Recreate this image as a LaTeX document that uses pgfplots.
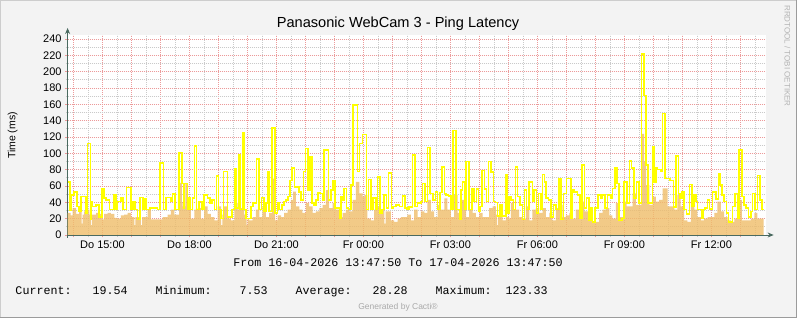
\documentclass[border=0pt]{standalone}
\usepackage{fontspec}
\setmainfont{Liberation Sans}
\setmonofont{Liberation Mono}
\usepackage{pgfplots}
\pgfplotsset{compat=1.18}
\usetikzlibrary{arrows.meta}
\definecolor{bgc}{HTML}{F3F3F3}
\definecolor{tanc}{HTML}{EFBD6A}
\definecolor{yel}{HTML}{FFFF00}
\definecolor{axc}{HTML}{4A6A60}
\definecolor{mgrid}{HTML}{EC9A9A}
\definecolor{ngrid}{HTML}{CACACA}
\begin{document}
\begin{tikzpicture}
\useasboundingbox (0pt,0pt) rectangle (797pt,318pt);
\fill[bgc] (0pt,0pt) rectangle (797pt,318pt);
\draw[color={rgb,255:red,205;green,205;blue,205}, line width=1pt] (0.5pt,0pt) -- (0.5pt,317.5pt) -- (797pt,317.5pt);
\draw[color={rgb,255:red,155;green,155;blue,155}, line width=1pt] (0pt,0.5pt) -- (796.5pt,0.5pt) -- (796.5pt,318pt);
\begin{axis}[
  at={(67.6pt,83pt)}, anchor=south west,
  scale only axis, width=698pt, height=200pt,
  xmin=0, xmax=24.07, ymin=0, ymax=245,
  axis background/.style={fill=white},
  axis x line=bottom, axis y line=left,
  axis line style={draw=axc, line width=0.7pt},
  x axis line style={-{Stealth[length=6pt,width=5pt]}, shorten >=-8pt},
  y axis line style={-{Stealth[length=6pt,width=5pt]}, shorten >=-7pt, shorten <=-3pt},
  grid=both,
  major grid style={draw=mgrid, line width=0.9pt, dash pattern=on 1pt off 1pt},
  minor grid style={draw=ngrid, line width=0.9pt, dash pattern=on 1pt off 1pt},
  xtick={0.2028,1.2028,2.2028,3.2028,4.2028,5.2028,6.2028,7.2028,8.2028,9.2028,10.2028,11.2028,12.2028,13.2028,14.2028,15.2028,16.2028,17.2028,18.2028,19.2028,20.2028,21.2028,22.2028,23.2028},
  minor xtick={0.7028,1.7028,2.7028,3.7028,4.7028,5.7028,6.7028,7.7028,8.7028,9.7028,10.7028,11.7028,12.7028,13.7028,14.7028,15.7028,16.7028,17.7028,18.7028,19.7028,20.7028,21.7028,22.7028,23.7028},
  xticklabels={,Do 15:00,,,Do 18:00,,,Do 21:00,,,Fr 00:00,,,Fr 03:00,,,Fr 06:00,,,Fr 09:00,,,Fr 12:00,},
  ytick={0,20,...,240},
  minor ytick={10,30,...,230},
  tick align=outside,
  major tick length=2.5pt, minor tick length=2pt,
  every major tick/.style={draw=mgrid, line width=0.8pt},
  every minor tick/.style={draw=ngrid, line width=0.8pt},
  ticklabel style={font=\fontsize{11}{13}\selectfont, text=black},
  yticklabel style={/pgf/number format/assume math mode=true},
]
\addplot[draw=none, fill=tanc, fill opacity=0.8, const plot] coordinates {
(0.00,27) (0.10,24) (0.17,33) (0.29,26) (0.40,28) (0.48,14) (0.52,25) (0.57,29) (0.69,31) (0.75,25) (0.80,12) (0.84,25) (0.98,27) (1.09,26) (1.21,19) (1.26,26) (1.38,27) (1.49,26) (1.61,21) (1.72,20) (1.84,24) (1.95,25) (2.07,27) (2.18,22) (2.30,12) (2.34,22) (2.53,12) (2.57,22) (2.76,31) (2.87,19) (3.22,19)
(3.28,22) (3.45,25) (3.56,31) (3.68,25) (3.85,64) (3.94,40) (3.97,35) (4.06,63) (4.14,31) (4.25,20) (4.37,31) (4.48,33) (4.60,20) (4.71,35) (4.83,26) (4.94,22) (5.06,18) (5.17,35) (5.29,12) (5.34,25) (5.40,35) (5.52,20) (5.63,18) (5.75,39) (5.86,31) (5.90,55) (5.95,33) (6.03,57) (6.09,25) (6.17,12) (6.21,20) (6.26,18) (6.38,22) (6.49,31) (6.61,22)
(6.72,35) (6.84,22) (6.95,27) (7.05,69) (7.12,29) (7.16,18) (7.24,24) (7.36,22) (7.47,27) (7.59,31) (7.70,43) (7.78,53) (7.87,35) (7.99,31) (8.10,27) (8.22,39) (8.33,35) (8.45,27) (8.56,29) (8.68,33) (8.79,37) (8.91,55) (9.02,33) (9.14,39) (9.25,31) (9.37,22) (9.48,27) (9.60,31) (9.71,29) (9.83,43) (9.94,65) (10.06,51)
(10.17,47) (10.23,49) (10.34,20) (10.46,18) (10.57,31) (10.69,35) (10.80,31) (10.92,14) (10.97,29) (11.15,18) (11.26,16) (11.38,20) (11.49,22) (11.72,25) (11.84,18) (11.95,31) (12.07,22) (12.18,29) (12.30,27) (12.41,43) (12.53,29) (12.64,22) (12.76,37) (12.87,31) (12.99,45) (13.10,31) (13.22,22) (13.33,49) (13.45,27) (13.56,43)
(13.74,22) (13.85,31) (13.97,27) (14.08,22) (14.20,27) (14.31,22) (14.54,33) (14.66,35) (14.77,25) (14.80,12) (14.84,22) (15.00,18) (15.11,22) (15.23,20) (15.29,39) (15.37,31) (15.57,22) (15.69,20) (15.80,35) (15.92,18) (16.03,31) (16.15,33) (16.26,27) (16.38,33) (16.49,22) (16.61,27) (16.72,18) (16.84,33) (16.95,37)
(17.07,22) (17.18,24) (17.30,27) (17.41,20) (17.53,31) (17.64,33) (17.76,41) (17.82,29) (17.99,20) (18.10,16) (18.33,27) (18.45,31) (18.56,33) (18.68,24) (18.79,20) (18.91,39) (19.02,22) (19.19,41) (19.28,35) (19.48,51) (19.60,37) (19.79,124) (19.88,90) (19.95,61) (20.06,37) (20.17,47) (20.29,41) (20.40,43)
(20.52,57) (20.69,35) (20.92,31) (21.03,49) (21.14,35) (21.26,18) (21.37,16) (21.49,39) (21.61,31) (21.72,22) (21.84,18) (21.95,20) (22.07,22) (22.30,27) (22.41,41) (22.53,29) (22.64,22) (22.76,18) (22.87,16) (22.99,20) (23.16,43) (23.25,18) (23.56,20) (23.68,27) (23.79,20) (24.00,20)
} \closedcycle;
\addplot[yel, line width=1.6pt, const plot] coordinates {
(0.00,65) (0.08,30) (0.14,49) (0.23,53) (0.32,35) (0.40,29) (0.46,47) (0.63,27) (0.69,112) (0.79,19) (0.82,41) (0.86,35) (0.98,37) (1.09,22) (1.18,57) (1.26,45) (1.32,43) (1.44,31) (1.61,49) (1.67,31) (1.72,41) (1.84,45) (1.92,31) (2.03,58) (2.18,31) (2.26,41) (2.33,31) (2.41,19) (2.49,46) (2.59,31) (2.67,44) (2.72,31) (2.84,33) (3.10,31) (3.18,88)
(3.31,31) (3.39,46) (3.56,41) (3.62,50) (3.70,31) (3.85,101) (3.94,63) (4.01,33) (4.03,63) (4.14,31) (4.17,45) (4.23,31) (4.31,45) (4.37,109) (4.45,31) (4.54,41) (4.63,31) (4.71,49) (4.83,45) (4.91,39) (4.98,43) (5.06,31) (5.14,72) (5.21,31) (5.29,20) (5.37,78) (5.52,22) (5.67,31) (5.75,81) (5.80,33) (5.90,98) (5.95,31) (6.03,125) (6.09,31) (6.15,20) (6.32,35) (6.40,39) (6.52,93) (6.61,31) (6.69,46)
(6.78,29) (6.84,39) (6.90,78) (6.95,29) (7.05,131) (7.15,27) (7.24,39) (7.30,31) (7.39,37) (7.47,41) (7.53,43) (7.59,47) (7.67,67) (7.74,82) (7.82,59) (7.97,53) (8.05,43) (8.13,78) (8.20,106) (8.28,55) (8.36,96) (8.43,39) (8.50,37) (8.56,43) (8.64,52) (8.70,51) (8.79,43) (8.85,104) (8.99,43) (9.08,55) (9.16,67) (9.23,33) (9.37,20) (9.43,47) (9.48,43) (9.54,57) (9.62,33) (9.69,31) (9.77,61) (9.85,159) (10.00,78) (10.06,112)
(10.17,123) (10.31,31) (10.38,68) (10.46,31) (10.54,45) (10.63,31) (10.69,71) (10.77,27) (10.84,31) (10.92,49) (11.00,33) (11.07,76) (11.17,33) (11.23,35) (11.32,37) (11.44,35) (11.55,48) (11.63,33) (11.70,31) (11.78,34) (11.90,98) (11.98,35) (12.07,39) (12.18,41) (12.24,63) (12.33,41) (12.41,107) (12.50,51) (12.59,43) (12.68,53) (12.76,31) (12.84,52) (12.91,83) (12.99,51) (13.05,49) (13.14,48) (13.22,31) (13.28,128) (13.39,31) (13.51,19) (13.56,55)
(13.62,65) (13.68,31) (13.74,90) (13.85,31) (13.94,56) (14.02,41) (14.10,56) (14.17,29) (14.22,35) (14.29,79) (14.37,56) (14.45,41) (14.52,90) (14.60,77) (14.68,41) (14.75,40) (14.83,23) (14.91,37) (14.98,23) (15.11,74) (15.17,27) (15.23,47) (15.29,43) (15.37,31) (15.44,83) (15.52,47) (15.60,37) (15.69,19) (15.75,55) (15.83,31) (15.92,65) (16.03,41) (16.09,55) (16.17,27) (16.24,51) (16.32,31) (16.38,74) (16.44,65) (16.49,45) (16.59,43) (16.67,22) (16.75,37) (16.84,31) (16.95,69) (17.01,19)
(17.10,51) (17.21,69) (17.36,20) (17.41,55) (17.47,53) (17.59,49) (17.67,20) (17.74,86) (17.82,33) (17.90,45) (17.97,18) (18.05,33) (18.10,16) (18.18,33) (18.28,49) (18.39,45) (18.45,49) (18.54,33) (18.62,49) (18.74,45) (18.79,57) (18.87,82) (18.94,63) (19.02,18) (19.11,20) (19.19,65) (19.28,39) (19.37,91) (19.45,82) (19.54,45) (19.62,65) (19.71,39) (19.79,222) (19.88,171) (19.95,86) (20.01,39) (20.17,108) (20.23,65) (20.29,82) (20.34,80) (20.46,78) (20.52,149)
(20.61,69) (20.77,67) (20.89,34) (20.98,97) (21.06,51) (21.11,45) (21.18,53) (21.26,31) (21.34,26) (21.44,62) (21.53,35) (21.61,49) (21.67,41) (21.72,31) (21.87,20) (21.92,31) (21.99,33) (22.07,43) (22.13,32) (22.24,53) (22.36,44) (22.44,75) (22.49,61) (22.56,49) (22.64,41) (22.72,27) (22.79,16) (22.93,35) (23.02,51) (23.10,20) (23.16,104) (23.25,47) (23.33,37) (23.39,33) (23.48,22) (23.56,29) (23.62,51) (23.71,31) (23.79,73) (23.87,43) (23.94,31) (24.00,31)
};
\end{axis}
\node[rotate=90, anchor=base, inner sep=0pt, font=\fontsize{10.5}{12}\selectfont] at (15.5pt,182.5pt) {Time (ms)};
\node[anchor=base, inner sep=0pt, font=\fontsize{14.6}{16}\selectfont] at (398pt,290pt) {Panasonic WebCam 3 - Ping Latency};
\node[rotate=-90, anchor=base, inner sep=0pt, font=\fontsize{8}{9}\selectfont, text={rgb,255:red,180;green,180;blue,180}] at (784.5pt,262pt) {RRDTOOL / TOBI OETIKER};
\node[anchor=base, inner sep=0pt, font=\ttfamily\fontsize{11.67}{13}\selectfont] at (398pt,51pt) {From 16-04-2026 13:47:50 To 17-04-2026 13:47:50};
\node[anchor=base west, inner sep=0pt, font=\ttfamily\fontsize{11.67}{13}\selectfont] at (15.3pt,23.5pt) {Current:~~~19.54~~~~Minimum:~~~~7.53~~~~Average:~~~28.28~~~~Maximum:~~123.33};
\node[anchor=base, inner sep=0pt, font=\fontsize{8.5}{10}\selectfont, text={rgb,255:red,170;green,170;blue,170}] at (398pt,8pt) {Generated by Cacti®};
\end{tikzpicture}
\end{document}
